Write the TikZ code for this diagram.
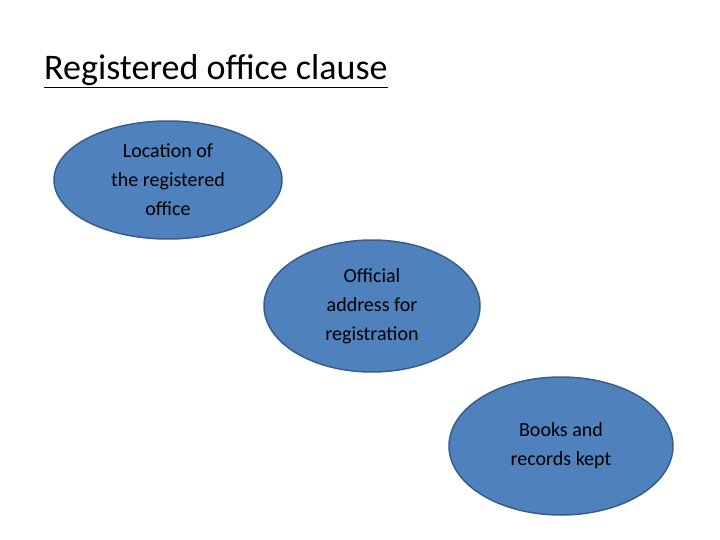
\documentclass[tikz,border=0pt]{standalone}
\usepackage{fontspec}
\setmainfont{Carlito}
\usetikzlibrary{shapes.geometric}
\definecolor{fillb}{HTML}{4F81BD}
\definecolor{edgeb}{HTML}{385D8A}
\tikzset{oval/.style={ellipse,draw=edgeb,line width=1.5pt,fill=fillb,inner sep=0pt,align=center,font=\fontsize{20}{29}\selectfont}}
\begin{document}
\begin{tikzpicture}[x=1pt,y=-1pt]
\useasboundingbox (0,0) rectangle (720,540);
\node[anchor=base west,inner sep=0pt,font=\fontsize{36}{40}\selectfont] (title) at (44,80) {\underline{Registered office clause}};
\node[oval,minimum width=228,minimum height=118] (a) at (168,180) {Location of\\the registered\\office};
\node[oval,minimum width=216,minimum height=132] (b) at (372,306) {Official\\address for\\registration};
\node[oval,minimum width=224,minimum height=138] (c) at (561,446) {Books and\\records kept};
\end{tikzpicture}
\end{document}
